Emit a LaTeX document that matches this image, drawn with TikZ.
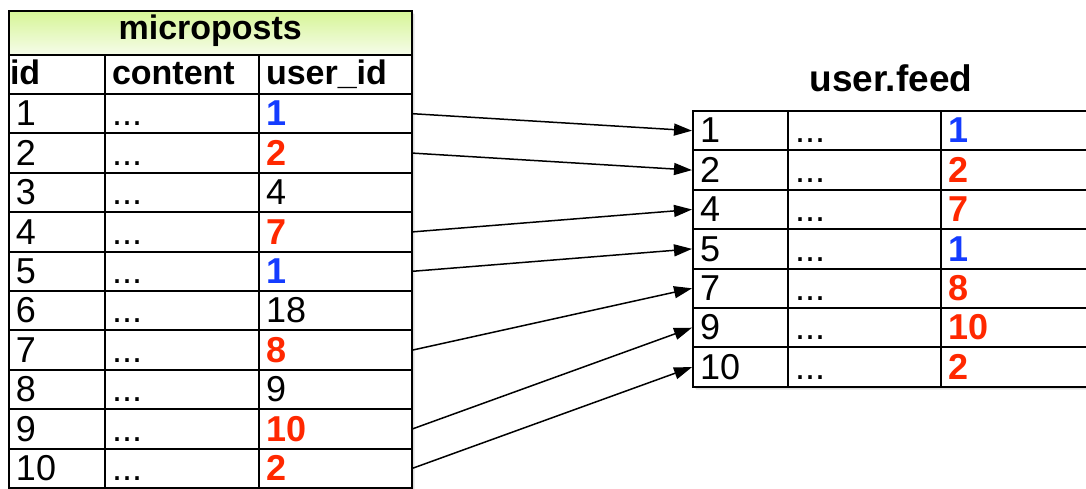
\documentclass[tikz,border=0pt]{standalone}
\usepackage{fontspec}
\setmainfont{Liberation Sans}
\usetikzlibrary{arrows.meta}
\definecolor{idblue}{RGB}{20,60,255}
\definecolor{idred}{RGB}{255,40,0}
\definecolor{titletop}{RGB}{214,245,150}
\definecolor{titlebot}{RGB}{246,252,234}

\begin{document}
\begin{tikzpicture}[x=1pt,y=1pt,
  tbl/.style={draw=black, fill=white, line width=2pt, inner xsep=7pt, inner ysep=0pt,
              anchor=north west, align=left},
  datarow/.style={tbl, text height=31.9pt, text depth=7.5pt,
                  font=\fontsize{36}{40}\selectfont},
  headrow/.style={tbl, text height=29.5pt, text depth=9.5pt,
                  font=\fontsize{34}{38}\selectfont\bfseries},
  plainid/.style={},
  blueid/.style={text=idblue, font=\fontsize{36}{40}\selectfont\bfseries},
  redid/.style={text=idred, font=\fontsize{36}{40}\selectfont\bfseries},
  link/.style={line width=1.5pt, -{Triangle[length=18pt,width=12pt]}},
  softshadow/.style={fill=black, opacity=0.07},
]
\clip (0,0) rectangle (1086,-489);

% soft drop shadows behind both tables
\foreach \o in {1,2,3,4} {
  \fill[softshadow] (8+\o,-10-\o) rectangle (410.5+\o,-487-\o);
  \fill[softshadow] (692+\o,-110-\o) rectangle (1092+\o,-385.8-\o);
}

% ---------- microposts table ----------
\node[tbl, text width=388.5pt, align=center, text height=28.5pt, text depth=15.5pt,
      top color=titletop, bottom color=titlebot,
      font=\fontsize{34}{38}\selectfont\bfseries] (mtitle) at (8,-10) {microposts};

\node[headrow, text width=94pt, inner xsep=1pt] (Hid) at (8,-54) {id};
\node[headrow, text width=140pt] (Hcontent) at (104,-54) {content};
\node[headrow, text width=138.5pt] (Huser) at (258,-54) {user\_id};

\foreach \k/\id/\uid/\sty in {1/1/1/blueid, 2/2/2/redid, 3/3/4/plainid,
    4/4/7/redid, 5/5/1/blueid, 6/6/18/plainid, 7/7/8/redid,
    8/8/9/plainid, 9/9/10/redid, 10/10/2/redid} {
  \node[datarow, text width=82pt] (L\k a) at (8,{-93-(\k-1)*39.4}) {\id};
  \node[datarow, text width=140pt] (L\k b) at (104,{-93-(\k-1)*39.4}) {...};
  \node[datarow, text width=138.5pt, \sty] (L\k c) at (258,{-93-(\k-1)*39.4}) {\uid};
}

% ---------- user.feed table ----------
\node[anchor=base, inner sep=0pt, font=\fontsize{37}{40}\selectfont\bfseries]
  (ftitle) at (891,-92) {user.feed};

\foreach \k/\id/\uid/\sty in {1/1/1/blueid, 2/2/2/redid, 3/4/7/redid,
    4/5/1/blueid, 5/7/8/redid, 6/9/10/redid, 7/10/2/redid} {
  \node[datarow, text width=81pt] (R\k a) at (692,{-110-(\k-1)*39.4}) {\id};
  \node[datarow, text width=139pt] (R\k b) at (787,{-110-(\k-1)*39.4}) {...};
  \node[datarow, text width=138pt, \sty] (R\k c) at (940,{-110-(\k-1)*39.4}) {\uid};
}

% ---------- selection arrows ----------
\draw[link] (L1c.east) -- (R1a.west);
\draw[link] (L2c.east) -- (R2a.west);
\draw[link] (L4c.east) -- (R3a.west);
\draw[link] (L5c.east) -- (R4a.west);
\draw[link] (L7c.east) -- (R5a.west);
\draw[link] (L9c.east) -- (R6a.west);
\draw[link] (L10c.east) -- (R7a.west);
\end{tikzpicture}
\end{document}
